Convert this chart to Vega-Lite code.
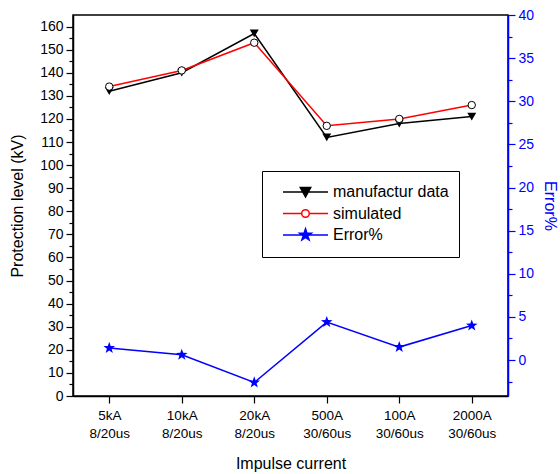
{
  "$schema": "https://vega.github.io/schema/vega-lite/v6.json",
  "width": 435,
  "height": 381,
  "autosize": "none",
  "padding": {"left": 73, "top": 15, "right": 52, "bottom": 78},
  "background": "white",
  "config": {
    "font": "Liberation Sans",
    "view": {"stroke": "black", "strokeWidth": 1.5},
    "axis": {"grid": false, "labelFont": "Liberation Sans", "titleFont": "Liberation Sans", "labelFontSize": 14, "titleFontSize": 16, "titleFontWeight": "normal", "labelColor": "black", "titleColor": "black", "domainColor": "black", "tickColor": "black", "domainWidth": 1.5, "tickWidth": 1.2}
  },
  "data": {
    "values": [
      {"cat": "5kA 8/20us", "series": "manufactur data", "value": 132},
      {"cat": "10kA 8/20us", "series": "manufactur data", "value": 140},
      {"cat": "20kA 8/20us", "series": "manufactur data", "value": 157},
      {"cat": "500A 30/60us", "series": "manufactur data", "value": 112},
      {"cat": "100A 30/60us", "series": "manufactur data", "value": 118},
      {"cat": "2000A 30/60us", "series": "manufactur data", "value": 121},
      {"cat": "5kA 8/20us", "series": "simulated", "value": 134},
      {"cat": "10kA 8/20us", "series": "simulated", "value": 141},
      {"cat": "20kA 8/20us", "series": "simulated", "value": 153},
      {"cat": "500A 30/60us", "series": "simulated", "value": 117},
      {"cat": "100A 30/60us", "series": "simulated", "value": 120},
      {"cat": "2000A 30/60us", "series": "simulated", "value": 126},
      {"cat": "5kA 8/20us", "series": "Error%", "value": 1.4},
      {"cat": "10kA 8/20us", "series": "Error%", "value": 0.6},
      {"cat": "20kA 8/20us", "series": "Error%", "value": -2.6},
      {"cat": "500A 30/60us", "series": "Error%", "value": 4.4},
      {"cat": "100A 30/60us", "series": "Error%", "value": 1.5},
      {"cat": "2000A 30/60us", "series": "Error%", "value": 4.0}
    ]
  },
  "encoding": {
    "x": {
      "field": "cat", "type": "ordinal", "sort": null,
      "scale": {"type": "point", "padding": 0.5},
      "axis": {"orient": "bottom", "title": "Impulse current", "labelAngle": 0, "labelExpr": "split(datum.label, ' ')", "labelLineHeight": 18, "labelFontSize": 13.5, "tickSize": 7, "labelPadding": 5, "titlePadding": 16}
    }
  },
  "layer": [
    {
      "transform": [{"filter": "datum.series !== 'Error%'"}],
      "encoding": {
        "y": {
          "field": "value", "type": "quantitative",
          "scale": {"domain": [0, 165], "nice": false, "zero": false},
          "axis": {"orient": "left", "title": "Protection level (kV)", "values": [0,5,10,15,20,25,30,35,40,45,50,55,60,65,70,75,80,85,90,95,100,105,110,115,120,125,130,135,140,145,150,155,160],
            "labelExpr": "datum.value % 10 === 0 ? datum.label : ''",
            "tickSize": {"condition": {"test": "datum.value % 10 === 0", "value": 7}, "value": 4},
            "labelPadding": 3, "titlePadding": 14, "labelBaseline": "middle"}
        }
      },
      "layer": [
        {"transform": [{"filter": "datum.series === 'manufactur data'"}], "mark": {"type": "line", "color": "black", "strokeWidth": 1.5}},
        {"transform": [{"filter": "datum.series === 'simulated'"}], "mark": {"type": "line", "color": "red", "strokeWidth": 1.5}},
        {"transform": [{"filter": "datum.series === 'manufactur data'"}], "mark": {"type": "point", "shape": "triangle-down", "filled": true, "color": "black", "size": 80, "opacity": 1}},
        {"transform": [{"filter": "datum.series === 'simulated'"}], "mark": {"type": "point", "shape": "circle", "filled": false, "fill": "white", "stroke": "black", "strokeWidth": 1, "size": 55, "opacity": 1}}
      ]
    },
    {
      "encoding": {
        "y": {
          "field": "value", "type": "quantitative",
          "scale": {"domain": [-4.17, 40], "nice": false, "zero": false},
          "axis": {"orient": "right", "title": "Error%", "values": [-2.5,0,2.5,5,7.5,10,12.5,15,17.5,20,22.5,25,27.5,30,32.5,35,37.5,40],
            "labelExpr": "datum.value % 5 === 0 ? datum.label : ''",
            "tickSize": {"condition": {"test": "datum.value % 5 === 0", "value": 7}, "value": 4},
            "domainColor": "blue", "tickColor": "blue", "labelColor": "blue", "titleColor": "blue", "labelPadding": 3, "titlePadding": 8, "labelBaseline": "middle"}
        }
      },
      "layer": [
        {"transform": [{"filter": "datum.series === 'Error%'"}], "mark": {"type": "line", "color": "blue", "strokeWidth": 1.5}},
        {"transform": [{"filter": "datum.series === 'Error%'"}], "mark": {"type": "point", "shape": "M0,-1L0.235,-0.324L0.951,-0.309L0.38,0.124L0.588,0.809L0,0.4L-0.588,0.809L-0.38,0.124L-0.951,-0.309L-0.235,-0.324Z", "filled": true, "color": "blue", "size": 150, "opacity": 1}},
        {
          "mark": {"type": "point", "filled": true, "opacity": 0},
          "encoding": {
            "shape": {"field": "series", "type": "nominal",
              "scale": {"domain": ["manufactur data", "simulated", "Error%"],
                "range": [
                  "M0,0H4.5M1.73,-0.45L2.77,-0.45L2.25,0.5Z",
                  "M0,0H1.87M2.63,0H4.5M1.87,0A0.38,0.38,0,1,0,2.63,0A0.38,0.38,0,1,0,1.87,0Z",
                  "M0,0H4.5M2.25,-0.62L2.39,-0.2L2.84,-0.19L2.48,0.08L2.61,0.5L2.25,0.25L1.89,0.5L2.02,0.08L1.66,-0.19L2.11,-0.2Z"
                ]},
              "legend": {"title": "\u00a0", "titleOrient": "bottom", "titleFontSize": 4, "titlePadding": 0, "orient": "none", "legendX": 189, "legendY": 156, "strokeColor": "black", "padding": 10, "symbolSize": 400, "symbolStrokeWidth": 1.5, "symbolOpacity": 1, "labelFont": "Liberation Sans", "labelFontSize": 16, "labelColor": "black", "labelOffset": 39, "rowPadding": 2.5, "fillColor": "white"}},
            "stroke": {"field": "series", "type": "nominal", "scale": {"domain": ["manufactur data", "simulated", "Error%"], "range": ["black", "red", "blue"]}},
            "fill": {"field": "series", "type": "nominal", "scale": {"domain": ["manufactur data", "simulated", "Error%"], "range": ["black", "white", "blue"]}}
          }
        }
      ]
    }
  ],
  "resolve": {"scale": {"y": "independent"}}
}
